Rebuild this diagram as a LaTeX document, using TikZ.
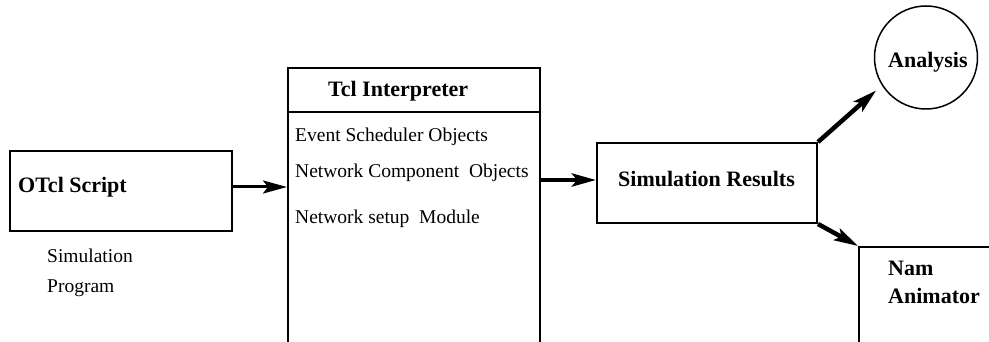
\documentclass[tikz,border=0pt]{standalone}
\usepackage{fontspec}
\setmainfont{Liberation Serif}
\usetikzlibrary{arrows.meta}
\begin{document}
\begin{tikzpicture}[x=1pt,y=-1pt,
  box/.style={draw, line width=2pt, inner sep=0pt},
  bold/.style={font=\fontsize{22}{24}\selectfont\bfseries, inner sep=0pt, anchor=base west},
  item/.style={font=\fontsize{19.5}{22}\selectfont, inner sep=0pt, anchor=base west},
  flow/.style={line width=4pt, -{Stealth[length=24pt,width=13pt,inset=5pt]}},
]
\useasboundingbox (0,0) rectangle (989,342);
\clip (0,0) rectangle (989,342);

% OTcl script box
\node[box, minimum width=222pt, minimum height=80pt] (otcl) at (121,191) {};
\node[bold] (otcltxt) at (18,193) {OTcl Script};
\node[item] (simprog1) at (47,262) {Simulation};
\node[item] (simprog2) at (47,292) {Program};

% Tcl interpreter: header and open-ended body
\node[box, minimum width=252pt, minimum height=44pt] (tclhead) at (414,90) {};
\node[bold] (tcltxt) at (328,97) {Tcl Interpreter};
\node[box, minimum width=252pt, minimum height=258pt] (tclbody) at (414,241) {};
\node[item] (ev) at (295,142) {Event Scheduler Objects};
\node[item] (nc) at (295,178) {Network Component\ \ Objects};
\node[item] (ns) at (295,223) {Network setup\ \ Module};

% Simulation results
\node[box, minimum width=220pt, minimum height=80pt] (sim) at (707,183) {};
\node[bold] (simtxt) at (618,187) {Simulation Results};

% Analysis
\node[draw, circle, line width=1.5pt, minimum size=103pt, inner sep=0pt] (ana) at (926,57.5) {};
\node[bold] (anatxt) at (888,68) {Analysis};

% Nam animator (runs off the page)
\node[box, minimum width=151pt, minimum height=123pt] (nam) at (934.5,308.5) {};
\node[bold] (nam1) at (888,275) {Nam};
\node[bold] (nam2) at (888,303) {Animator};

% Connectors
\draw[flow, line width=3pt] ([yshift=4pt]otcl.east) -- ([yshift=4pt]otcl.east -| tclbody.west);
\draw[flow, line width=4.5pt] ([yshift=3pt]sim.west -| tclbody.east) -- ([yshift=3pt]sim.west);
\draw[flow, line width=4.5pt] (sim.north east) -- ([shift={(-6pt,-4.5pt)}]ana.213);
\draw[flow, line width=4.5pt] (sim.south east) -- (nam.north west);
\end{tikzpicture}
\end{document}
